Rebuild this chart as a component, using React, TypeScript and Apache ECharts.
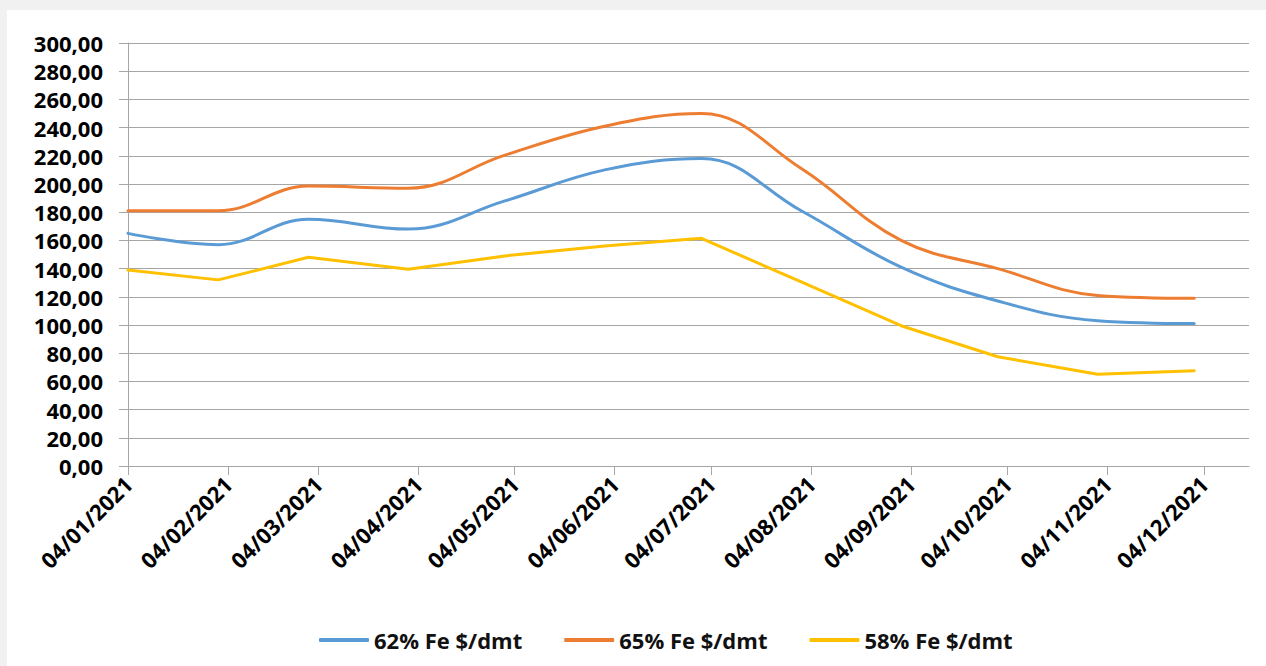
import React, { useEffect, useRef } from "react";
import * as echarts from "echarts";

// Data point dates (ISO) and values
const dataDates = [
  "2021-01-04", "2021-02-01", "2021-03-01", "2021-04-01", "2021-05-01", "2021-06-01",
  "2021-07-01", "2021-08-01", "2021-09-01", "2021-10-01", "2021-11-01", "2021-12-01",
];
const fe62 = [165, 157, 175, 168, 188, 210, 218, 181, 141, 117, 103, 101];
const fe65 = [181, 181, 198.5, 197, 220.5, 241, 250, 211, 160, 140, 121, 119];
const fe58 = [139, 132, 148, 139.5, 149, 156, 161.5, 130.5, 99.5, 77.5, 65, 67.5];

const seriesNames = ["62% Fe $/dmt", "65% Fe $/dmt", "58% Fe $/dmt"];

// Axis tick dates and labels
const tickDates = [
  "2021-01-04", "2021-02-04", "2021-03-04", "2021-04-04", "2021-05-04", "2021-06-04",
  "2021-07-04", "2021-08-04", "2021-09-04", "2021-10-04", "2021-11-04", "2021-12-04",
];
const tickLabels = [
  "04/01/2021", "04/02/2021", "04/03/2021", "04/04/2021", "04/05/2021", "04/06/2021",
  "04/07/2021", "04/08/2021", "04/09/2021", "04/10/2021", "04/11/2021", "04/12/2021",
];
const axisStartDate = "2021-01-04";
const axisEndDate = "2021-12-18";

const DAY = 86400000;
const dayOf = (s: string) => Math.round((Date.parse(s) - Date.parse(axisStartDate)) / DAY);

const FONT = "'Open Sans', 'Noto Sans', sans-serif";
const GRID_COLOR = "#a6a6a6";

export default function App() {
  const ref = useRef<HTMLDivElement>(null);

  useEffect(() => {
    if (!ref.current) return;
    const chart = echarts.init(ref.current, null, { renderer: "svg" });
    const tickVals = tickDates.map(dayOf);
    const xs = dataDates.map(dayOf);
    const mk = (vals: number[]) => vals.map((v, i) => [xs[i], v]);

    chart.setOption({
      animation: false,
      backgroundColor: "#ffffff",
      grid: { left: 121, top: 33, right: 17, bottom: 200, containLabel: false },
      legend: {
        left: 307,
        top: 614,
        icon: "roundRect",
        itemWidth: 50,
        itemHeight: 4,
        itemGap: 42,
        textStyle: { fontFamily: FONT, fontWeight: "bold", fontSize: 22, color: "#111" },
        data: seriesNames,
      },
      xAxis: {
        type: "value",
        min: 0,
        max: dayOf(axisEndDate),
        axisLine: { show: true, lineStyle: { color: GRID_COLOR, width: 1 } },
        axisTick: {
          show: true,
          length: 9,
          customValues: tickVals,
          lineStyle: { color: GRID_COLOR },
        },
        axisLabel: {
          customValues: tickVals,
          rotate: 45,
          margin: 14,
          fontFamily: FONT,
          fontWeight: "bold",
          fontSize: 22,
          color: "#000",
          formatter: (v: number) => {
            const i = tickVals.indexOf(Math.round(v));
            return i >= 0 ? tickLabels[i] : "";
          },
        },
        splitLine: { show: false },
      },
      yAxis: {
        type: "value",
        min: 0,
        max: 300,
        interval: 20,
        axisLine: { show: true, lineStyle: { color: GRID_COLOR, width: 1 } },
        axisTick: { show: true, length: 9, lineStyle: { color: GRID_COLOR } },
        axisLabel: {
          margin: 25,
          fontFamily: FONT,
          fontWeight: "bold",
          fontSize: 22,
          color: "#000",
          formatter: (v: number) => v.toFixed(2).replace(".", ","),
        },
        splitLine: { show: true, lineStyle: { color: GRID_COLOR, width: 1 } },
      },
      series: [
        {
          name: seriesNames[0],
          type: "line",
          data: mk(fe62),
          smooth: 0.4,
          smoothConstraint: false,
          showSymbol: false,
          symbol: "none",
          lineStyle: { color: "#5B9BD5", width: 3, cap: "round" },
          itemStyle: { color: "#5B9BD5" },
        },
        {
          name: seriesNames[1],
          type: "line",
          data: mk(fe65),
          smooth: 0.4,
          smoothConstraint: false,
          showSymbol: false,
          symbol: "none",
          lineStyle: { color: "#ED7D31", width: 3, cap: "round" },
          itemStyle: { color: "#ED7D31" },
        },
        {
          name: seriesNames[2],
          type: "line",
          data: mk(fe58),
          smooth: false,
          showSymbol: false,
          symbol: "none",
          lineStyle: { color: "#FFC000", width: 3, cap: "round" },
          itemStyle: { color: "#FFC000" },
        },
      ],
    });
    return () => chart.dispose();
  }, []);

  return (
    <div style={{ position: "absolute", left: 0, top: 0, width: 1266, height: 666, background: "#f1f1f1", overflow: "hidden" }}>
      <div ref={ref} style={{ position: "absolute", left: 7, top: 10, width: 1259, height: 656, background: "#fff" }} />
    </div>
  );
}
